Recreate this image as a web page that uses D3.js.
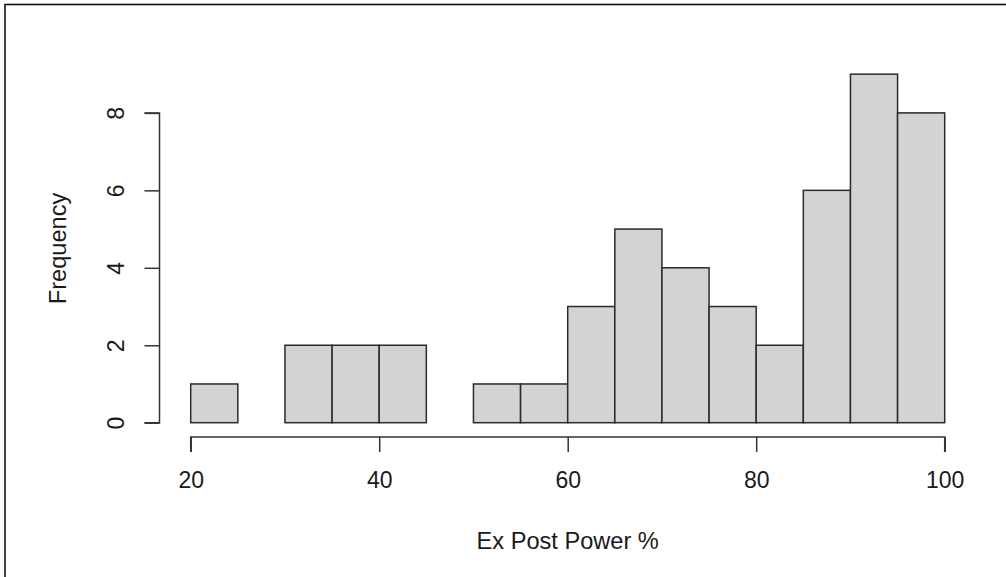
<!DOCTYPE html>
<html>
<head>
<meta charset="utf-8">
<script src="https://cdn.jsdelivr.net/npm/d3@7"></script>
<style>
  html, body { margin: 0; padding: 0; background: #fff; }
  svg { display: block; }
  text { font-family: "Liberation Sans", Arial, sans-serif; fill: #1a1a1a; }
</style>
</head>
<body>
<svg id="chart" width="1006" height="577"></svg>
<script>
// Histogram bins (5-point wide) and their counts
const binStarts = [20, 25, 30, 35, 40, 45, 50, 55, 60, 65, 70, 75, 80, 85, 90, 95];
const binWidth = 5;
const counts = [1, 0, 2, 2, 2, 0, 1, 1, 3, 5, 4, 3, 2, 6, 9, 8];
const xTicks = [20, 40, 60, 80, 100];
const yTicks = [0, 2, 4, 6, 8];
const xTitle = "Ex Post Power %";
const yTitle = "Frequency";

const svg = d3.select("#chart");
const W = 1006, H = 577;

// Outer frame
svg.append("rect")
  .attr("x", 5).attr("y", 4.5)
  .attr("width", W + 10).attr("height", H + 10)
  .attr("fill", "none").attr("stroke", "#111").attr("stroke-width", 1.6);

const x = d3.scaleLinear().domain([20, 100]).range([190.7, 944.7]);
const y = d3.scaleLinear().domain([0, 8]).range([422.7, 112.9]);

// Bars
svg.append("g")
  .selectAll("rect")
  .data(binStarts.map((s, i) => ({ s, c: counts[i] })))
  .join("rect")
  .attr("x", d => x(d.s))
  .attr("width", d => x(d.s + binWidth) - x(d.s))
  .attr("y", d => y(d.c))
  .attr("height", d => y(0) - y(d.c))
  .attr("fill", "#d3d3d3")
  .attr("stroke", "#2a2a2a")
  .attr("stroke-width", 1.5);

// X axis (detached, R style)
const xAxis = svg.append("g")
  .attr("transform", "translate(0,437)")
  .call(d3.axisBottom(x).tickValues(xTicks).tickSize(15).tickPadding(20).tickFormat(d3.format("d")));
xAxis.select(".domain").attr("d", `M${x(20)},15V0H${x(100)}V15`);
xAxis.selectAll("line, path").attr("stroke", "#333").attr("stroke-width", 1.5);
xAxis.selectAll("text").attr("font-size", 23).attr("font-family", "Liberation Sans, Arial, sans-serif").attr("fill", "#1a1a1a");

// Y axis with labels rotated parallel to the axis
const yAxis = svg.append("g")
  .attr("transform", "translate(159.5,0)")
  .call(d3.axisLeft(y).tickValues(yTicks).tickSize(15).tickFormat(d3.format("d")));
yAxis.select(".domain").attr("d", `M-15,${y(0)}H0V${y(8)}H-15`);
yAxis.selectAll("line, path").attr("stroke", "#333").attr("stroke-width", 1.5);
yAxis.selectAll(".tick text")
  .attr("x", 0).attr("dy", null)
  .attr("text-anchor", "middle")
  .attr("transform", "translate(-43.5,0) rotate(-90)")
  .attr("y", 0)
  .attr("dominant-baseline", "central")
  .attr("font-size", 23).attr("font-family", "Liberation Sans, Arial, sans-serif").attr("fill", "#1a1a1a");

// Axis titles, centred on the plotting region
svg.append("text")
  .attr("x", x(60)).attr("y", 549)
  .attr("text-anchor", "middle")
  .attr("font-size", 23.6)
  .text(xTitle);

svg.append("text")
  .attr("transform", `translate(65.5,${y(4.5)}) rotate(-90)`)
  .attr("text-anchor", "middle")
  .attr("font-size", 23.6)
  .text(yTitle);
</script>
</body>
</html>
